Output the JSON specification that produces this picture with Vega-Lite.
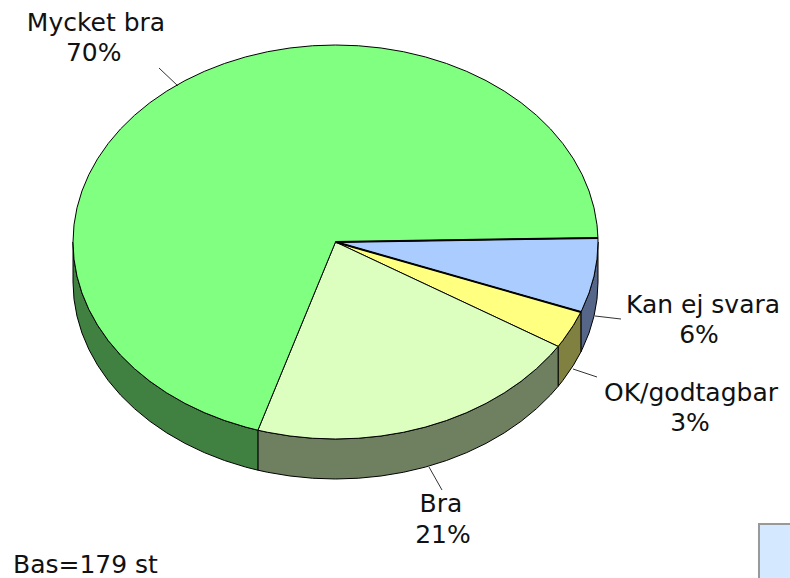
{"$schema":"https://vega.github.io/schema/vega-lite/v6.json","width":790,"height":578,"padding":0,"autosize":{"type":"none"},"background":"white","config":{"view":{"stroke":null}},
"datasets":{
"walls":[
{"s":"Kan ej svara","x":1,"y":0,"y2":0.203},{"s":"Kan ej svara","x":0.9962,"y":0.0872,"y2":0.2902},{"s":"Kan ej svara","x":0.9848,"y":0.1736,"y2":0.3766},{"s":"Kan ej svara","x":0.9659,"y":0.2588,"y2":0.4618},{"s":"Kan ej svara","x":0.9397,"y":0.342,"y2":0.545},{"s":"Kan ej svara","x":0.9348,"y":0.3551,"y2":0.5581},
{"s":"OK/godtagbar","x":0.9348,"y":0.3551,"y2":0.5581},{"s":"OK/godtagbar","x":0.9063,"y":0.4226,"y2":0.6256},{"s":"OK/godtagbar","x":0.866,"y":0.5,"y2":0.703},{"s":"OK/godtagbar","x":0.848,"y":0.5299,"y2":0.7329},
{"s":"Bra","x":0.848,"y":0.5299,"y2":0.7329},{"s":"Bra","x":0.8192,"y":0.5736,"y2":0.7766},{"s":"Bra","x":0.766,"y":0.6428,"y2":0.8458},{"s":"Bra","x":0.7071,"y":0.7071,"y2":0.9101},{"s":"Bra","x":0.6428,"y":0.766,"y2":0.969},{"s":"Bra","x":0.5736,"y":0.8192,"y2":1.0222},{"s":"Bra","x":0.5,"y":0.866,"y2":1.069},{"s":"Bra","x":0.4226,"y":0.9063,"y2":1.1093},{"s":"Bra","x":0.342,"y":0.9397,"y2":1.1427},{"s":"Bra","x":0.2588,"y":0.9659,"y2":1.1689},{"s":"Bra","x":0.1736,"y":0.9848,"y2":1.1878},{"s":"Bra","x":0.0872,"y":0.9962,"y2":1.1992},{"s":"Bra","x":0,"y":1,"y2":1.203},{"s":"Bra","x":-0.0872,"y":0.9962,"y2":1.1992},{"s":"Bra","x":-0.1736,"y":0.9848,"y2":1.1878},{"s":"Bra","x":-0.2588,"y":0.9659,"y2":1.1689},{"s":"Bra","x":-0.2957,"y":0.9553,"y2":1.1583},
{"s":"Mycket bra","x":-0.2957,"y":0.9553,"y2":1.1583},{"s":"Mycket bra","x":-0.342,"y":0.9397,"y2":1.1427},{"s":"Mycket bra","x":-0.4226,"y":0.9063,"y2":1.1093},{"s":"Mycket bra","x":-0.5,"y":0.866,"y2":1.069},{"s":"Mycket bra","x":-0.5736,"y":0.8192,"y2":1.0222},{"s":"Mycket bra","x":-0.6428,"y":0.766,"y2":0.969},{"s":"Mycket bra","x":-0.7071,"y":0.7071,"y2":0.9101},{"s":"Mycket bra","x":-0.766,"y":0.6428,"y2":0.8458},{"s":"Mycket bra","x":-0.8192,"y":0.5736,"y2":0.7766},{"s":"Mycket bra","x":-0.866,"y":0.5,"y2":0.703},{"s":"Mycket bra","x":-0.9063,"y":0.4226,"y2":0.6256},{"s":"Mycket bra","x":-0.9397,"y":0.342,"y2":0.545},{"s":"Mycket bra","x":-0.9659,"y":0.2588,"y2":0.4618},{"s":"Mycket bra","x":-0.9848,"y":0.1736,"y2":0.3766},{"s":"Mycket bra","x":-0.9962,"y":0.0872,"y2":0.2902},{"s":"Mycket bra","x":-1,"y":0,"y2":0.203}
],
"tops":[
{"s":"Kan ej svara","a":-2,"x":0,"y":0},{"s":"Kan ej svara","a":-1.2,"x":0.9998,"y":-0.0209},{"s":"Kan ej svara","a":0,"x":1,"y":0},{"s":"Kan ej svara","a":5,"x":0.9962,"y":0.0872},{"s":"Kan ej svara","a":10,"x":0.9848,"y":0.1736},{"s":"Kan ej svara","a":15,"x":0.9659,"y":0.2588},{"s":"Kan ej svara","a":20,"x":0.9397,"y":0.342},{"s":"Kan ej svara","a":20.8,"x":0.9348,"y":0.3551},{"s":"Kan ej svara","a":21,"x":0,"y":0},
{"s":"OK/godtagbar","a":20,"x":0,"y":0},{"s":"OK/godtagbar","a":20.8,"x":0.9348,"y":0.3551},{"s":"OK/godtagbar","a":25,"x":0.9063,"y":0.4226},{"s":"OK/godtagbar","a":30,"x":0.866,"y":0.5},{"s":"OK/godtagbar","a":32,"x":0.848,"y":0.5299},{"s":"OK/godtagbar","a":33,"x":0,"y":0},
{"s":"Bra","a":31,"x":0,"y":0},{"s":"Bra","a":32,"x":0.848,"y":0.5299},{"s":"Bra","a":35,"x":0.8192,"y":0.5736},{"s":"Bra","a":40,"x":0.766,"y":0.6428},{"s":"Bra","a":45,"x":0.7071,"y":0.7071},{"s":"Bra","a":50,"x":0.6428,"y":0.766},{"s":"Bra","a":55,"x":0.5736,"y":0.8192},{"s":"Bra","a":60,"x":0.5,"y":0.866},{"s":"Bra","a":65,"x":0.4226,"y":0.9063},{"s":"Bra","a":70,"x":0.342,"y":0.9397},{"s":"Bra","a":75,"x":0.2588,"y":0.9659},{"s":"Bra","a":80,"x":0.1736,"y":0.9848},{"s":"Bra","a":85,"x":0.0872,"y":0.9962},{"s":"Bra","a":90,"x":0,"y":1},{"s":"Bra","a":95,"x":-0.0872,"y":0.9962},{"s":"Bra","a":100,"x":-0.1736,"y":0.9848},{"s":"Bra","a":105,"x":-0.2588,"y":0.9659},{"s":"Bra","a":107.2,"x":-0.2957,"y":0.9553},{"s":"Bra","a":108,"x":0,"y":0},
{"s":"Mycket bra","a":107,"x":0,"y":0},{"s":"Mycket bra","a":107.2,"x":-0.2957,"y":0.9553},{"s":"Mycket bra","a":110,"x":-0.342,"y":0.9397},{"s":"Mycket bra","a":115,"x":-0.4226,"y":0.9063},{"s":"Mycket bra","a":120,"x":-0.5,"y":0.866},{"s":"Mycket bra","a":125,"x":-0.5736,"y":0.8192},{"s":"Mycket bra","a":130,"x":-0.6428,"y":0.766},{"s":"Mycket bra","a":135,"x":-0.7071,"y":0.7071},{"s":"Mycket bra","a":140,"x":-0.766,"y":0.6428},{"s":"Mycket bra","a":145,"x":-0.8192,"y":0.5736},{"s":"Mycket bra","a":150,"x":-0.866,"y":0.5},{"s":"Mycket bra","a":155,"x":-0.9063,"y":0.4226},{"s":"Mycket bra","a":160,"x":-0.9397,"y":0.342},{"s":"Mycket bra","a":165,"x":-0.9659,"y":0.2588},{"s":"Mycket bra","a":170,"x":-0.9848,"y":0.1736},{"s":"Mycket bra","a":175,"x":-0.9962,"y":0.0872},{"s":"Mycket bra","a":180,"x":-1,"y":0},{"s":"Mycket bra","a":185,"x":-0.9962,"y":-0.0872},{"s":"Mycket bra","a":190,"x":-0.9848,"y":-0.1736},{"s":"Mycket bra","a":195,"x":-0.9659,"y":-0.2588},{"s":"Mycket bra","a":200,"x":-0.9397,"y":-0.342},{"s":"Mycket bra","a":205,"x":-0.9063,"y":-0.4226},{"s":"Mycket bra","a":210,"x":-0.866,"y":-0.5},{"s":"Mycket bra","a":215,"x":-0.8192,"y":-0.5736},{"s":"Mycket bra","a":220,"x":-0.766,"y":-0.6428},{"s":"Mycket bra","a":225,"x":-0.7071,"y":-0.7071},{"s":"Mycket bra","a":230,"x":-0.6428,"y":-0.766},{"s":"Mycket bra","a":235,"x":-0.5736,"y":-0.8192},{"s":"Mycket bra","a":240,"x":-0.5,"y":-0.866},{"s":"Mycket bra","a":245,"x":-0.4226,"y":-0.9063},{"s":"Mycket bra","a":250,"x":-0.342,"y":-0.9397},{"s":"Mycket bra","a":255,"x":-0.2588,"y":-0.9659},{"s":"Mycket bra","a":260,"x":-0.1736,"y":-0.9848},{"s":"Mycket bra","a":265,"x":-0.0872,"y":-0.9962},{"s":"Mycket bra","a":270,"x":0,"y":-1},{"s":"Mycket bra","a":275,"x":0.0872,"y":-0.9962},{"s":"Mycket bra","a":280,"x":0.1736,"y":-0.9848},{"s":"Mycket bra","a":285,"x":0.2588,"y":-0.9659},{"s":"Mycket bra","a":290,"x":0.342,"y":-0.9397},{"s":"Mycket bra","a":295,"x":0.4226,"y":-0.9063},{"s":"Mycket bra","a":300,"x":0.5,"y":-0.866},{"s":"Mycket bra","a":305,"x":0.5736,"y":-0.8192},{"s":"Mycket bra","a":310,"x":0.6428,"y":-0.766},{"s":"Mycket bra","a":315,"x":0.7071,"y":-0.7071},{"s":"Mycket bra","a":320,"x":0.766,"y":-0.6428},{"s":"Mycket bra","a":325,"x":0.8192,"y":-0.5736},{"s":"Mycket bra","a":330,"x":0.866,"y":-0.5},{"s":"Mycket bra","a":335,"x":0.9063,"y":-0.4226},{"s":"Mycket bra","a":340,"x":0.9397,"y":-0.342},{"s":"Mycket bra","a":345,"x":0.9659,"y":-0.2588},{"s":"Mycket bra","a":350,"x":0.9848,"y":-0.1736},{"s":"Mycket bra","a":355,"x":0.9962,"y":-0.0872},{"s":"Mycket bra","a":358.8,"x":0.9998,"y":-0.0209},{"s":"Mycket bra","a":359,"x":0,"y":0}
],
"edges":[
{"x":0,"y":0,"x2":0.9998,"y2":-0.0209},
{"x":0,"y":0,"x2":0.9348,"y2":0.3551}
],
"leaders":[
{"x":-0.6724,"y":-0.8832,"x2":-0.6,"y2":-0.7919},
{"x":0.9886,"y":0.3756,"x2":1.0876,"y2":0.3909},
{"x":0.9048,"y":0.6447,"x2":0.9962,"y2":0.6853},
{"x":0.3562,"y":1.1421,"x2":0.4057,"y2":1.2589}
],
"labels":[
{"t":"Mycket bra","x":-0.9124,"y":-1.0711},{"t":"70%","x":-0.9211,"y":-0.9188},
{"t":"Kan ej svara","x":1.4,"y":0.3604},{"t":"6%","x":1.3848,"y":0.5127},
{"t":"OK/godtagbar","x":1.3543,"y":0.8071},{"t":"3%","x":1.3505,"y":0.9594},
{"t":"Bra","x":0.4019,"y":1.3706},{"t":"21%","x":0.4095,"y":1.5279}
],
"base":[{"t":"Bas=179 st","x":-1.2286,"y":1.6802}],
"box":[{"x":1.6133,"y":1.4315,"x2":1.9,"y2":1.9}]
},
"encoding":{
"x":{"field":"x","type":"quantitative","axis":null,"scale":{"domain":[-1.278095,1.731429],"range":[0,790],"nice":false,"zero":false}},
"y":{"field":"y","type":"quantitative","axis":null,"stack":null,"scale":{"domain":[-1.22843,1.70558],"range":[0,578],"nice":false,"zero":false}}
},
"layer":[
{"data":{"name":"box"},"mark":{"type":"rect","fill":"#d4e8ff","stroke":"#999999","strokeWidth":2,"clip":true},"encoding":{"x2":{"field":"x2"},"y2":{"field":"y2"}}},
{"data":{"name":"walls"},"mark":{"type":"area","stroke":"black","strokeWidth":1},"encoding":{"y2":{"field":"y2"},"fill":{"field":"s","type":"nominal","legend":null,"scale":{"domain":["Mycket bra","Bra","OK/godtagbar","Kan ej svara"],"range":["#408040","#6e8060","#808040","#556688"]}}}},
{"data":{"name":"tops"},"mark":{"type":"line","stroke":"black","strokeWidth":1,"strokeJoin":"round"},"encoding":{"order":{"field":"a","type":"quantitative"},"fill":{"field":"s","type":"nominal","legend":null,"scale":{"domain":["Mycket bra","Bra","OK/godtagbar","Kan ej svara"],"range":["#80ff80","#dcffc0","#ffff80","#aaccff"]}}}},
{"data":{"name":"edges"},"mark":{"type":"rule","stroke":"black","strokeWidth":2},"encoding":{"x2":{"field":"x2"},"y2":{"field":"y2"}}},
{"data":{"name":"leaders"},"mark":{"type":"rule","stroke":"#333333","strokeWidth":1},"encoding":{"x2":{"field":"x2"},"y2":{"field":"y2"}}},
{"data":{"name":"labels"},"mark":{"type":"text","font":"DejaVu Sans","fontSize":25,"align":"center","baseline":"alphabetic","fill":"#111111"},"encoding":{"text":{"field":"t"}}},
{"data":{"name":"base"},"mark":{"type":"text","font":"DejaVu Sans","fontSize":25,"align":"left","baseline":"alphabetic","fill":"#111111"},"encoding":{"text":{"field":"t"}}}
],
"resolve":{"scale":{"fill":"independent"}}
}
